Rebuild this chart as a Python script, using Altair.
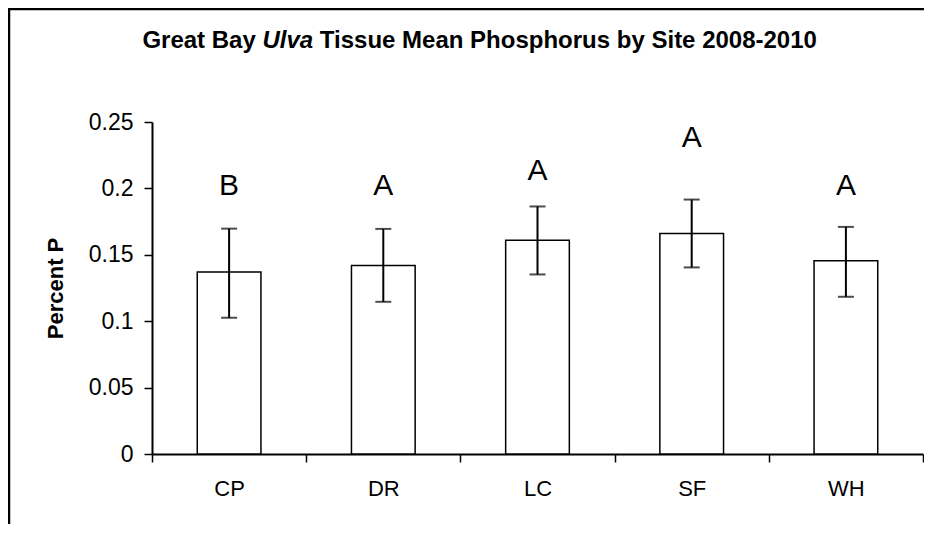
import altair as alt
import pandas as pd

# ---- data ----
sites = ["CP", "DR", "LC", "SF", "WH"]
mean_p = [0.137, 0.142, 0.161, 0.166, 0.1455]
err_high = [0.1697, 0.1695, 0.1864, 0.1916, 0.1710]
err_low = [0.1026, 0.1146, 0.1352, 0.1405, 0.1184]
letters = ["B", "A", "A", "A", "A"]
letter_y = [0.1949, 0.1949, 0.2067, 0.2310, 0.1949]
y_ticks = [0, 0.05, 0.1, 0.15, 0.2, 0.25]
title_parts = ["Great Bay", "Ulva", "Tissue Mean Phosphorus by Site 2008-2010"]
y_title = "Percent P"

FONT = "Liberation Sans"
W, H = 771, 332
TF = 24  # title font size

df = pd.DataFrame({
    "site": sites, "mean": mean_p, "hi": err_high, "lo": err_low,
    "letter": letters, "ly": letter_y,
})

x_axis = alt.Axis(
    title=None, labelAngle=0, tickBand="extent", labelFont=FONT, labelFontSize=22,
    labelColor="black", domainColor="black", domainWidth=2, tickColor="black",
    tickWidth=1.5, tickSize=8, labelPadding=16, grid=False,
)
y_axis = alt.Axis(
    title=y_title, values=y_ticks, format="~g", labelFont=FONT, labelFontSize=23,
    labelColor="black", domainColor="black", domainWidth=2, tickColor="black",
    tickWidth=1.5, tickSize=8, labelPadding=11, grid=False,
    titleFont=FONT, titleFontSize=22, titleFontWeight="bold", titleColor="black",
    titleAngle=270, titleX=-97, titleY=H / 2, titleAlign="center", titleBaseline="middle",
)
x_scale = alt.Scale(domain=sites, paddingInner=0, paddingOuter=0)
y_scale = alt.Scale(domain=[0, 0.25], nice=False)


def xe():
    return alt.X("site:N", sort=sites, scale=x_scale, axis=x_axis)


def ye(field):
    return alt.Y(field, scale=y_scale, axis=y_axis)


base = alt.Chart(df)

bars = base.mark_bar(
    width=alt.RelativeBandSize(0.413), fill="white", stroke="black", strokeWidth=1.5
).encode(x=xe(), y=ye("mean:Q"))

err = base.mark_rule(color="black", strokeWidth=2).encode(
    x=xe(), y=ye("lo:Q"), y2="hi:Q"
)
cap_hi = base.mark_tick(orient="horizontal", size=16, thickness=2, color="black").encode(
    x=xe(), y=ye("hi:Q")
)
cap_lo = base.mark_tick(orient="horizontal", size=16, thickness=2, color="black").encode(
    x=xe(), y=ye("lo:Q")
)
lett = base.mark_text(
    font=FONT, fontSize=30, color="black", align="center", baseline="alphabetic"
).encode(x=xe(), y=ye("ly:Q"), text="letter:N")

# ---- title (mixed bold / bold italic) ----
em1 = 4.724 * TF
em_sp = 0.278 * TF
em2 = 2.112 * TF
total = 28.132 * TF
start = 480 - 152 - total / 2
x1 = start + em1
x2 = x1 + em_sp
x3 = x2 + em2 + em_sp
TY = 48 - 122

t1 = alt.Chart(pd.DataFrame({"t": [title_parts[0]]})).mark_text(
    font=FONT, fontSize=TF, fontWeight="bold", align="right", baseline="alphabetic", color="black"
).encode(text="t:N", x=alt.value(x1), y=alt.value(TY))
t2 = alt.Chart(pd.DataFrame({"t": [title_parts[1]]})).mark_text(
    font=FONT, fontSize=TF, fontWeight="bold", fontStyle="italic", align="left",
    baseline="alphabetic", color="black"
).encode(text="t:N", x=alt.value(x2), y=alt.value(TY))
t3 = alt.Chart(pd.DataFrame({"t": [title_parts[2]]})).mark_text(
    font=FONT, fontSize=TF, fontWeight="bold", align="left", baseline="alphabetic", color="black"
).encode(text="t:N", x=alt.value(x3), y=alt.value(TY))

# ---- chart-area frame (left and top edges visible) ----
one = pd.DataFrame({"a": [0]})
frame_left = alt.Chart(one).mark_rule(color="black", strokeWidth=2.5).encode(
    x=alt.value(-143), y=alt.value(-114), y2=alt.value(H + 80)
)
frame_top = alt.Chart(one).mark_rule(color="black", strokeWidth=2.5).encode(
    x=alt.value(-144), x2=alt.value(W + 20), y=alt.value(-113)
)

chart = alt.layer(
    bars, err, cap_hi, cap_lo, lett, t1, t2, t3, frame_left, frame_top
).properties(
    width=W, height=H,
    padding={"left": 144, "top": 114, "right": 1, "bottom": 70},
    autosize=alt.AutoSizeParams(type="none"),
    background="white",
).configure_view(stroke=None)

chart.save("out.html", embed_options={"renderer": "svg", "actions": False})
